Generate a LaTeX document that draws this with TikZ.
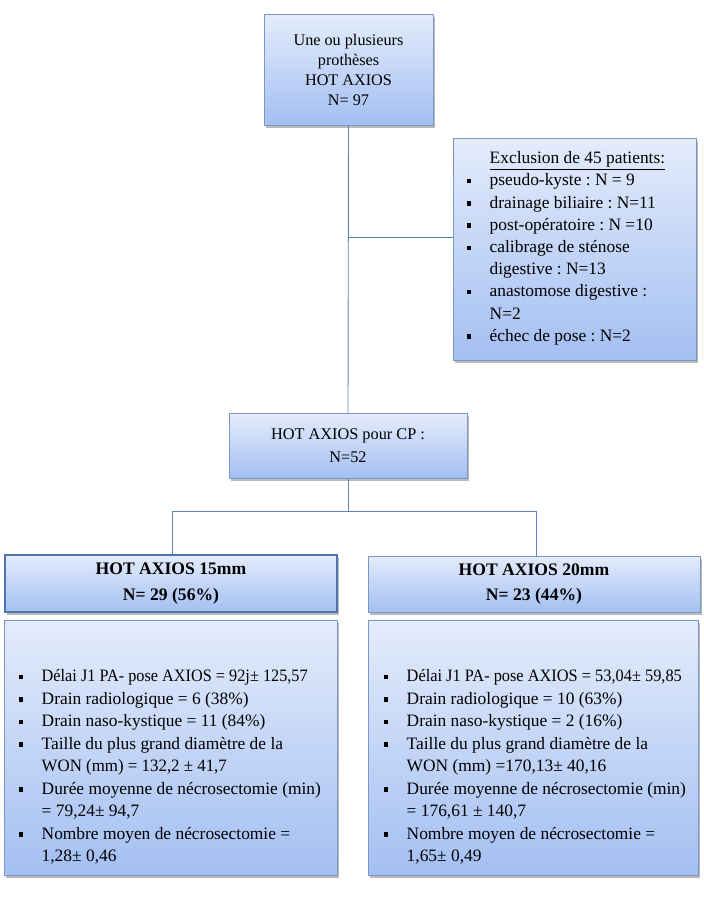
\documentclass[tikz,border=0pt]{standalone}
\usepackage{fontspec}
\setmainfont{Liberation Serif}
\usetikzlibrary{shadows}
\definecolor{boxtop}{HTML}{E4ECFB}
\definecolor{boxbot}{HTML}{A3BFF2}
\definecolor{boxline}{HTML}{7D97C4}
\definecolor{boxlinedark}{HTML}{4F74AE}
\definecolor{conn}{HTML}{5F82B8}
\newcommand{\bul}{\makebox[23pt][l]{\raisebox{2.5pt}{\rule{4.5pt}{4.5pt}}}}
\newcommand{\bulind}{\hspace*{23pt}}
\frenchspacing
\tikzset{
  box/.style={draw=boxline, line width=0.8pt, top color=boxtop, bottom color=boxbot,
    drop shadow={shadow xshift=2pt, shadow yshift=-3pt, opacity=0.45, fill=black!60},
    inner sep=0pt, align=center},
  boxsel/.style={box, draw=boxlinedark, line width=1.8pt},
  conn/.style={draw=conn, line width=0.9pt},
  txt/.style={inner sep=0pt, align=left, anchor=north west}
}
\begin{document}
\begin{tikzpicture}[x=1pt,y=-1pt]
\useasboundingbox (0,0) rectangle (704,922);
% boxes
\node[box, minimum width=169pt, minimum height=111pt, font=\fontsize{16.2}{20}\selectfont] (top) at (348.5,69.5)
  {Une ou plusieurs\\prothèses\\HOT AXIOS\\N= 97};
\node[box, minimum width=243pt, minimum height=222pt] (excl) at (574.5,249) {};
\node[box, minimum width=238pt, minimum height=65pt, font=\fontsize{16.3}{23}\selectfont] (cp) at (348,445.5)
  {HOT AXIOS pour CP :\\N=52};
\node[boxsel, minimum width=332pt, minimum height=57pt, font=\bfseries\fontsize{17.6}{25.5}\selectfont] (b15) at (171,583.5)
  {HOT AXIOS 15mm\\N= 29 (56\%)};
\node[box, minimum width=332pt, minimum height=56pt, font=\bfseries\fontsize{17.6}{25.5}\selectfont] (b20) at (534,584)
  {HOT AXIOS 20mm\\N= 23 (44\%)};
\node[box, minimum width=333pt, minimum height=255pt] (d15) at (170.5,747.5) {};
\node[box, minimum width=330pt, minimum height=255pt] (d20) at (533,747.5) {};
% texts
\node[txt, font=\fontsize{17.4}{22.2}\selectfont] (extxt) at (466.5,151.5)
  {\bulind\underline{Exclusion de 45 patients:}\\
   \bul pseudo-kyste : N = 9\\
   \bul drainage biliaire : N=11\\
   \bul post-opératoire : N =10\\
   \bul calibrage de sténose\\
   \bulind digestive : N=13\\
   \bul anastomose digestive :\\
   \bulind N=2\\
   \bul échec de pose : N=2};
\node[txt, font=\fontsize{17.4}{22.5}\selectfont] (t15) at (18.5,669.5)
  {\bul \scalebox{0.935}[1]{Délai J1 PA- pose AXIOS = 92j± 125,57}\\
   \bul Drain radiologique = 6 (38\%)\\
   \bul Drain naso-kystique = 11 (84\%)\\
   \bul Taille du plus grand diamètre de la\\
   \bulind \scalebox{0.97}[1]{WON (mm) = 132,2 ± 41,7}\\
   \bul Durée moyenne de nécrosectomie (min)\\
   \bulind = 79,24± 94,7\\
   \bul Nombre moyen de nécrosectomie =\\
   \bulind 1,28± 0,46};
\node[txt, font=\fontsize{17.4}{22.5}\selectfont] (t20) at (383.5,669.5)
  {\bul \scalebox{0.94}[1]{Délai J1 PA- pose AXIOS = 53,04± 59,85}\\
   \bul Drain radiologique = 10 (63\%)\\
   \bul Drain naso-kystique = 2 (16\%)\\
   \bul Taille du plus grand diamètre de la\\
   \bulind WON (mm) =170,13± 40,16\\
   \bul Durée moyenne de nécrosectomie (min)\\
   \bulind = 176,61 ± 140,7\\
   \bul Nombre moyen de nécrosectomie =\\
   \bulind 1,65± 0,49};
% connectors
\coordinate (j1) at (348,237);
\coordinate (j2) at (348,511);
\coordinate (jl) at (172,511);
\coordinate (jr) at (536,511);
\draw[conn] (top.south) -- (cp.north);
\draw[conn] (j1) -- (j1 -| excl.west);
\draw[conn] (cp.south) -- (j2);
\draw[conn] (jl) -- (jr);
\draw[conn] (jl) -- (jl |- b15.north);
\draw[conn] (jr) -- (jr |- b20.north);
\end{tikzpicture}
\end{document}
